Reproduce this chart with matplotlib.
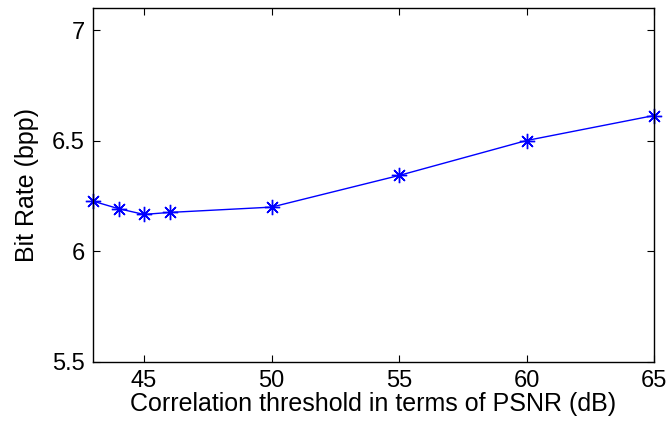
import matplotlib
matplotlib.use("Agg")
import matplotlib.pyplot as plt

thresholds = [43, 44, 45, 46, 50, 55, 60, 65]
bit_rate = [6.227, 6.193, 6.167, 6.176, 6.200, 6.343, 6.501, 6.614]
x_ticks = [45, 50, 55, 60, 65]
y_ticks = [5.5, 6, 6.5, 7]

plt.rcParams.update({
    "font.family": ["Liberation Sans", "DejaVu Sans"],
    "font.size": 18,
})

fig = plt.figure(figsize=(6.71, 4.30), dpi=100)
ax = fig.add_axes([93 / 671, 1 - 362 / 430, (654 - 93) / 671, (362 - 8) / 430])

# matlab style asterisk: 8 spokes
ax.plot(thresholds, bit_rate, color="#0000ff", linewidth=1.0, marker=(8, 2, 0),
        markersize=11, markeredgewidth=1.0, clip_on=False)

ax.set_xlim(43, 65)
ax.set_ylim(5.5, 7.1)
ax.set_xticks(x_ticks)
ax.set_yticks(y_ticks)
ax.set_yticklabels(["5.5", "6", "6.5", "7"])
ax.tick_params(direction="in", top=True, right=True, length=5, width=0.8,
               labelsize=17)
ax.tick_params(axis="x", pad=6)
ax.tick_params(axis="y", pad=6)
for s in ax.spines.values():
    s.set_linewidth(1.0)

ax.set_xlabel("Correlation threshold in terms of PSNR (dB)", fontsize=18, labelpad=0)
ax.set_ylabel("Bit Rate (bpp)", fontsize=18, labelpad=9)

fig.savefig("out.png", dpi=100)
